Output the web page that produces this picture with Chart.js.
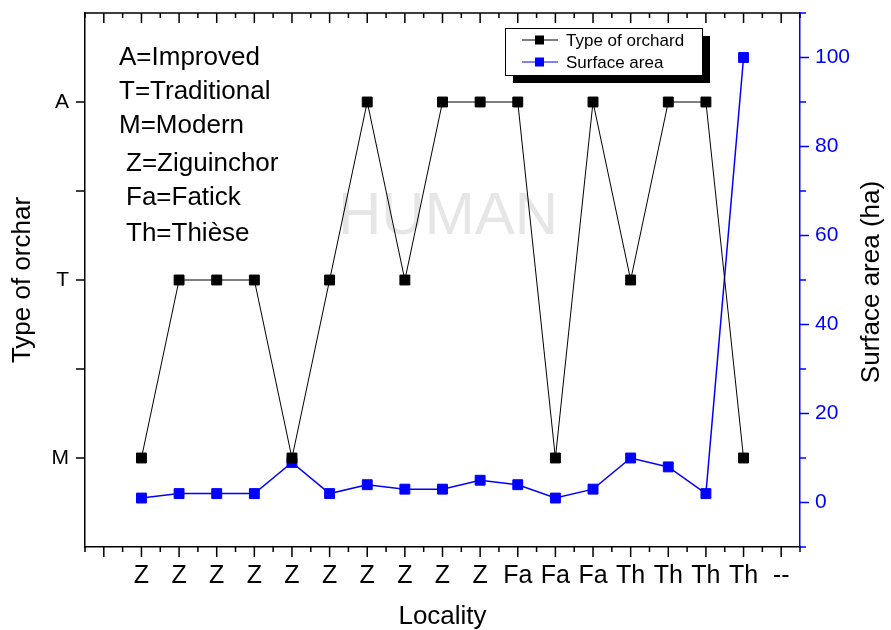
<!DOCTYPE html>
<html>
<head>
<meta charset="utf-8">
<script src="https://cdn.jsdelivr.net/npm/chart.js@4.4.1/dist/chart.umd.min.js"></script>
<style>
body { margin: 0; background: #fff; }
</style>
</head>
<body>
<canvas id="orchardChart" width="891" height="630"></canvas>
<script>
// values
const localities = ['Z','Z','Z','Z','Z','Z','Z','Z','Z','Z','Fa','Fa','Fa','Th','Th','Th','Th','--'];
const typeLevels = ['M', 'T', 'A'];
const orchardType = ['M','T','T','T','M','T','A','T','A','A','A','M','A','T','A','A','M', null];
const surfaceArea = [1, 2, 2, 2, 9, 2, 4, 3, 3, 5, 4, 1, 3, 10, 8, 2, 100, null];
const notes = ['A=Improved', 'T=Traditional', 'M=Modern', 'Z=Ziguinchor', 'Fa=Fatick', 'Th=Thièse'];
const rightTitle = 'Surface area (ha)';
const watermark = 'HUMAN';

const blue = '#0000ff';
Chart.defaults.font.family = '"Liberation Sans", Arial, sans-serif';
Chart.defaults.color = '#000';

function steps(from, to, step) {
	let out = [];
	for (let v = from; v <= to + 1e-9; v += step) out.push({ value: Math.round(v * 100) / 100 });
	return out;
}

const typePoints = orchardType.map((t, i) => t === null ? null : { x: i + 1, y: typeLevels.indexOf(t) }).filter(p => p);
const areaPoints = surfaceArea.map((s, i) => s === null ? null : { x: i + 1, y: s }).filter(p => p);

const framePlugin = {
	id: 'frame',
	beforeDatasetsDraw(chart) {
		const ctx = chart.ctx;
		ctx.save();
		ctx.fillStyle = '#e6e6e6';
		ctx.font = '60px "Liberation Sans"';
		ctx.textAlign = 'center';
		ctx.textBaseline = 'middle';
		ctx.fillText(watermark, 448, 217);
		ctx.restore();
	},
	afterDraw(chart) {
		const ctx = chart.ctx, a = chart.chartArea;
		const x = chart.scales.x, y = chart.scales.y, y1 = chart.scales.y1;
		ctx.save();
		ctx.lineWidth = 1.5;
		ctx.strokeStyle = '#000';
		ctx.beginPath();
		ctx.moveTo(a.left - 1, a.top);
		ctx.lineTo(a.right, a.top);
		// top (inward) and bottom (outward) ticks
		x.ticks.forEach(t => {
			const px = x.getPixelForValue(t.value);
			const len = Number.isInteger(t.value) ? 10 : 5;
			ctx.moveTo(px, a.top);
			ctx.lineTo(px, a.top + len);
			ctx.moveTo(px, a.bottom);
			ctx.lineTo(px, a.bottom + len);
		});
		y.ticks.forEach(t => {
			const py = y.getPixelForValue(t.value);
			ctx.moveTo(a.left, py);
			ctx.lineTo(a.left - 9, py);
		});
		ctx.stroke();
		ctx.strokeStyle = blue;
		ctx.beginPath();
		y1.ticks.forEach(t => {
			const py = y1.getPixelForValue(t.value);
			const len = t.value % 20 === 0 ? 9 : 6;
			ctx.moveTo(a.right, py);
			ctx.lineTo(a.right + len, py);
		});
		ctx.stroke();

		// notes
		ctx.fillStyle = '#000';
		ctx.font = '26px "Liberation Sans"';
		ctx.textAlign = 'left';
		ctx.textBaseline = 'middle';
		const noteY = [58, 92, 126, 164, 198, 234];
		notes.forEach((n, i) => ctx.fillText(n, i < 3 ? 119 : 126, noteY[i]));

		// right title, reading bottom to top
		ctx.save();
		ctx.translate(872, 282);
		ctx.rotate(-Math.PI / 2);
		ctx.textAlign = 'center';
		ctx.fillText(rightTitle, 0, 0);
		ctx.restore();

		// legend
		const lx = 505, ly = 28, lw = 197, lh = 47;
		ctx.fillStyle = '#000';
		ctx.fillRect(lx + 8, ly + 8, lw, lh);
		ctx.fillStyle = '#fff';
		ctx.fillRect(lx, ly, lw, lh);
		ctx.lineWidth = 1;
		ctx.strokeStyle = '#000';
		ctx.strokeRect(lx + 0.5, ly + 0.5, lw, lh);
		ctx.font = '17px "Liberation Sans"';
		chart.data.datasets.forEach((ds, i) => {
			const ry = ly + 12 + i * 22;
			ctx.strokeStyle = ds.borderColor;
			ctx.lineWidth = 1;
			ctx.beginPath();
			ctx.moveTo(lx + 17, ry);
			ctx.lineTo(lx + 53, ry);
			ctx.stroke();
			ctx.fillStyle = ds.borderColor;
			ctx.fillRect(lx + 30, ry - 4.5, 9, 9);
			ctx.fillStyle = '#000';
			ctx.fillText(ds.label, lx + 61, ry + 1);
		});
		ctx.restore();
	}
};

new Chart(document.getElementById('orchardChart'), {
	type: 'line',
	data: {
		datasets: [{
			label: 'Type of orchard',
			data: typePoints,
			yAxisID: 'y',
			borderColor: '#000',
			backgroundColor: '#000',
			borderWidth: 1,
			pointStyle: 'rect',
			pointRadius: 7,
			pointBorderWidth: 1,
			tension: 0
		}, {
			label: 'Surface area',
			data: areaPoints,
			yAxisID: 'y1',
			borderColor: blue,
			backgroundColor: blue,
			borderWidth: 1.5,
			pointStyle: 'rect',
			pointRadius: 7,
			pointBorderWidth: 1,
			tension: 0
		}]
	},
	options: {
		responsive: false,
		animation: false,
		layout: { padding: { top: 13, left: 0, right: 0, bottom: 0 } },
		plugins: { legend: { display: false }, tooltip: { enabled: false } },
		scales: {
			x: {
				type: 'linear',
				position: 'bottom',
				min: -0.5,
				max: 18.5,
				afterBuildTicks: s => { s.ticks = steps(-0.5, 18.5, 0.5); },
				afterFit: s => { s.height = 83; s.paddingLeft = 0; s.paddingRight = 0; },
				grid: { drawOnChartArea: false, drawTicks: false },
				border: { color: '#000', width: 1.5 },
				ticks: {
					autoSkip: false,
					maxRotation: 0,
					padding: 14,
					font: { family: '"Liberation Sans Narrow", "Liberation Sans", Arial', size: 25 },
					callback: v => (Number.isInteger(v) && v >= 1 && v <= localities.length) ? localities[v - 1] : ''
				},
				title: { display: true, text: 'Locality', font: { size: 26, lineHeight: 1 }, padding: { top: 0, bottom: 0 } }
			},
			y: {
				type: 'linear',
				position: 'left',
				min: -0.5,
				max: 2.5,
				afterBuildTicks: s => { s.ticks = steps(-0.5, 2.5, 0.5).filter(t => t.value > -0.5 && t.value < 2.5); },
				afterFit: s => { s.width = 85; s.paddingTop = 0; s.paddingBottom = 0; },
				grid: { drawOnChartArea: false, drawTicks: false },
				border: { color: '#000', width: 1.5 },
				ticks: {
					padding: 16,
					font: { size: 21 },
					callback: v => Number.isInteger(v) ? typeLevels[v] : ''
				},
				title: { display: true, text: 'Type of orchar', font: { size: 26, lineHeight: 1.2 }, padding: { top: 7, bottom: 0 } }
			},
			y1: {
				type: 'linear',
				position: 'right',
				min: -10,
				max: 110,
				afterBuildTicks: s => { s.ticks = steps(-10, 110, 10); },
				afterFit: s => { s.width = 91; s.paddingTop = 0; s.paddingBottom = 0; },
				grid: { drawOnChartArea: false, drawTicks: false },
				border: { color: blue, width: 1.5 },
				ticks: {
					padding: 15,
					color: blue,
					font: { size: 21 },
					callback: v => v % 20 === 0 ? v : ''
				}
			}
		}
	},
	plugins: [framePlugin]
});
</script>
</body>
</html>
